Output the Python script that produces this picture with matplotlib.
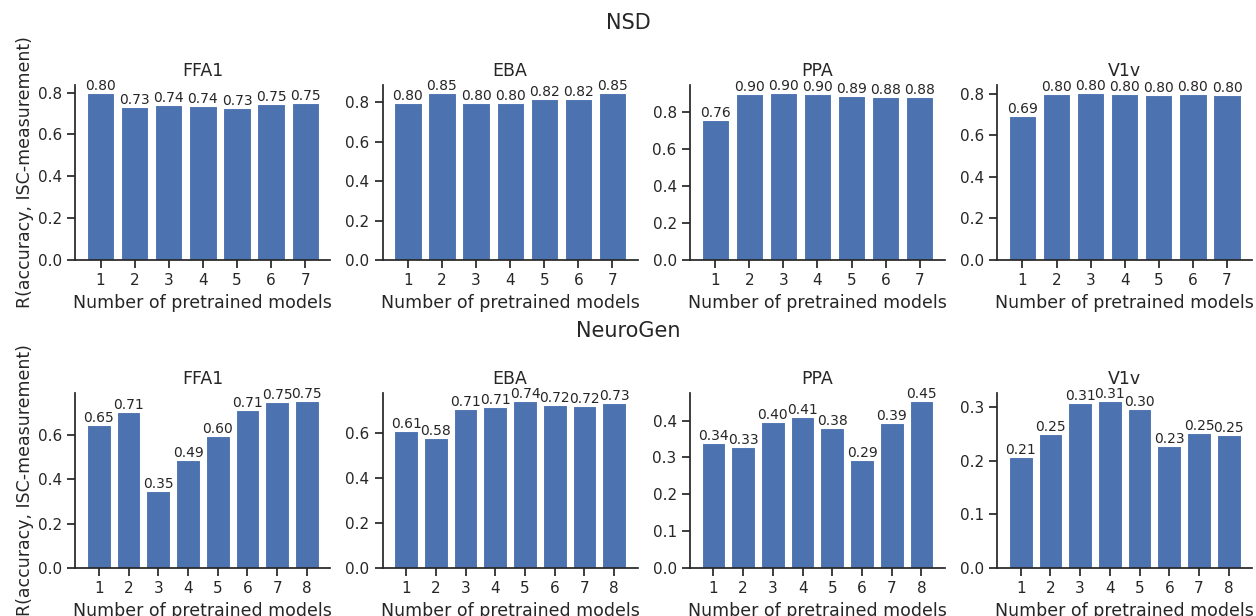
import numpy as np
import matplotlib
matplotlib.use("Agg")
import matplotlib.pyplot as plt
import seaborn as sns

# Data
rois = ["FFA1", "EBA", "PPA", "V1v"]

nsd_models = [1, 2, 3, 4, 5, 6, 7]
nsd_ffa1 = [0.798, 0.732, 0.742, 0.737, 0.728, 0.746, 0.749]
nsd_eba = [0.799, 0.848, 0.799, 0.798, 0.818, 0.817, 0.848]
nsd_ppa = [0.758, 0.896, 0.902, 0.898, 0.886, 0.883, 0.879]
nsd_v1v = [0.693, 0.800, 0.803, 0.797, 0.796, 0.800, 0.796]

ng_models = [1, 2, 3, 4, 5, 6, 7, 8]
ng_ffa1 = [0.648, 0.706, 0.347, 0.486, 0.598, 0.712, 0.750, 0.754]
ng_eba = [0.606, 0.577, 0.706, 0.713, 0.741, 0.724, 0.721, 0.731]
ng_ppa = [0.338, 0.328, 0.396, 0.411, 0.379, 0.292, 0.393, 0.453]
ng_v1v = [0.207, 0.249, 0.308, 0.311, 0.296, 0.227, 0.251, 0.248]

datasets = [
    ("NSD", nsd_models, [nsd_ffa1, nsd_eba, nsd_ppa, nsd_v1v]),
    ("NeuroGen", ng_models, [ng_ffa1, ng_eba, ng_ppa, ng_v1v]),
]

sns.set_theme(style="ticks", context="notebook")
plt.rcParams["font.family"] = ["DejaVu Sans"]

bar_color = "#4C72B0"

fig = plt.figure(figsize=(12.56, 6.16), dpi=100)
subfigs = fig.subfigures(2, 1)

for sf, (name, models, values) in zip(subfigs, datasets):
    axes = sf.subplots(1, 4)
    sf.subplots_adjust(left=0.06, right=0.997, top=0.725, bottom=0.156, wspace=0.205)
    sf.suptitle(name, fontsize=15, y=0.958, va="top")
    sf.supylabel("R(accuracy, ISC-measurement)", fontsize=12.5, x=0.013, y=0.44)

    for ax, roi, vals in zip(axes, rois, values):
        bars = ax.bar(models, vals, width=0.8, color=bar_color,
                      edgecolor="white", linewidth=0.8)
        ax.bar_label(bars, fmt="%.2f", fontsize=10, color=".15")
        ax.set_title(roi, fontsize=12.5)
        ax.set_xticks(models)
        ax.set_xlabel("Number of pretrained models", fontsize=12.5)
        ax.tick_params(labelsize=11)
        sns.despine(ax=ax)

fig.savefig("out.png", dpi=100)
